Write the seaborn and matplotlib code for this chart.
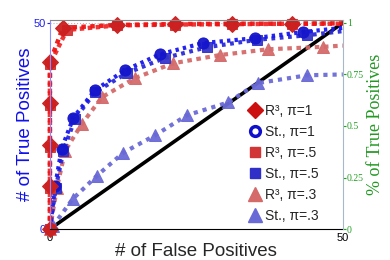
import pandas as pd
import matplotlib
matplotlib.use("Agg")
import matplotlib.pyplot as plt
from matplotlib.lines import Line2D
import seaborn as sns

# ---- data (false positives vs true positives) ----
fp_r3_1 = [0, 0, 0, 0, 0, 2.2, 11.4, 21.3, 31.0, 41.3, 50]
tp_r3_1 = [0, 10.5, 20.5, 30.5, 40.5, 48.8, 49.5, 49.7, 49.8, 49.8, 49.9]

fp_r3_5 = [0, 0, 0, 0, 0, 2.9, 11.4, 21.3, 31.0, 41.3, 50]
tp_r3_5 = [0, 10, 20, 30, 40, 48.3, 49.4, 49.6, 49.7, 49.8, 49.8]

fp_st_1 = [0, 0.9, 2.0, 4.0, 7.7, 12.8, 18.8, 26.1, 35.0, 43.2, 50]
tp_st_1 = [0, 10.5, 19.5, 27.0, 33.7, 38.5, 42.4, 45.1, 46.3, 47.8, 48.8]

fp_st_5 = [0, 1.0, 2.3, 4.3, 7.7, 13.1, 19.6, 26.8, 35.3, 43.9, 50]
tp_st_5 = [0, 10, 19, 26.8, 33.2, 37.8, 41.5, 44.1, 45.9, 47.0, 48.0]

fp_r3_3 = [0, 1.2, 2.6, 5.5, 8.9, 14.5, 21.0, 29.0, 37.2, 46.6, 50]
tp_r3_3 = [0, 10, 19, 25.6, 32, 36.6, 40.2, 42.2, 43.6, 44.2, 44.5]

fp_st_3 = [0.5, 3.9, 8.0, 12.5, 17.9, 23.4, 30.4, 35.5, 43.9, 50]
tp_st_3 = [0.7, 7.3, 12.9, 18.5, 22.7, 27.6, 30.7, 35.4, 37.3, 37.5]

labels = ["R³, π=1", "St., π=1", "R³, π=.5", "St., π=.5", "R³, π=.3", "St., π=.3"]

sns.set_style("white")
plt.rcParams['font.family'] = ['Liberation Sans', 'DejaVu Sans']

fig = plt.figure(figsize=(3.9, 2.6), dpi=100)
ax = fig.add_axes([0.128, 0.119, 0.751, 0.804])

# chance diagonal
sns.lineplot(x=[0, 50], y=[0, 50], color="black", lw=2.6, ax=ax,
             estimator=None, sort=False)

series = [
    # (x, y, line colour, marker, marker colour, size, linestyle, lw)
    (fp_r3_3, tp_r3_3, "#d46a6a", "^", "#d46a6a", 9, (0, (1.1, 1.1)), 3.0),
    (fp_st_3, tp_st_3, "#6a6ad6", "^", "#6a6ad6", 9, (0, (1, 1.2)), 3.0),
    (fp_st_5, tp_st_5, "#2a2ad8", "s", "#3535c8", 7, (0, (0.9, 1.1)), 3.0),
    (fp_st_1, tp_st_1, "#1818f0", "o", "#1515cc", 8, (0, (0.8, 1.0)), 3.0),
    (fp_r3_5, tp_r3_5, "#f02a2a", "s", "#d23535", 7, (0, (1, 0.8)), 3.2),
    (fp_r3_1, tp_r3_1, "#ee1414", "D", "#cc2020", 8, (0, (1, 1.0)), 3.2),
]
for x, y, col, mk, mcol, ms, ls, lw in series:
    sns.lineplot(x=x, y=y, ax=ax, color=col, lw=lw, linestyle=ls,
                 marker=mk, markersize=ms, markerfacecolor=mcol,
                 markeredgecolor=mcol, markevery=slice(0, len(x) - 1),
                 estimator=None, sort=False, alpha=0.95, clip_on=False)

ax.set_xlim(0, 50)
ax.set_ylim(0, 50.7)
ax.set_xticks([0, 50])
ax.set_yticks([0, 50])
ax.tick_params(axis="x", labelsize=8, length=2, pad=1, colors="black")
ax.tick_params(axis="y", labelsize=8, length=2, pad=1, colors="#2020ee")
ax.axhline(50, color="#bbbbbb", lw=0.8, ls=":", zorder=0)
ax.set_xlabel("# of False Positives", fontsize=13.5, labelpad=0)
ax.set_ylabel("# of True Positives", fontsize=13.5, color="#1010ee", labelpad=0)

ax.spines["left"].set_color("#8c8cff")
ax.spines["top"].set_color("#888888")
ax.spines["bottom"].set_color("black")
ax.spines["right"].set_visible(False)

# right axis in fraction of true positives
ax2 = ax.twinx()
ax2.set_ylim(0, 50.7 / 50)
ax2.set_yticks([0, 0.25, 0.5, 0.75, 1])
ax2.set_yticklabels(["0", "0.25", "0.5", "0.75", "1"],
                    family=["Liberation Serif", "DejaVu Serif"])
ax2.tick_params(axis="y", labelsize=7, length=2, pad=1, colors="#22a022")
ax2.set_ylabel("% of True Positives", fontsize=13, color="#229922",
               family=["Liberation Serif", "DejaVu Serif"], labelpad=2)
for s in ["left", "top", "bottom"]:
    ax2.spines[s].set_visible(False)
ax2.spines["right"].set_color("#a8b8c8")

handles = [
    Line2D([], [], ls="none", marker="D", ms=8, color="#cc1010"),
    Line2D([], [], ls="none", marker="o", ms=7, color="#1010cc",
           markerfacecolor="white", markeredgewidth=2.5),
    Line2D([], [], ls="none", marker="s", ms=7, color="#d23535"),
    Line2D([], [], ls="none", marker="s", ms=7, color="#3030c8"),
    Line2D([], [], ls="none", marker="^", ms=10, color="#d46a6a"),
    Line2D([], [], ls="none", marker="^", ms=10, color="#6a6ad6"),
]
ax.legend(handles, labels, loc="lower right", bbox_to_anchor=(0.945, -0.01),
          frameon=False, fontsize=10, handlelength=0.9, handletextpad=0.25,
          labelspacing=0.5, borderaxespad=0.2)

fig.savefig("out.png", dpi=100)
